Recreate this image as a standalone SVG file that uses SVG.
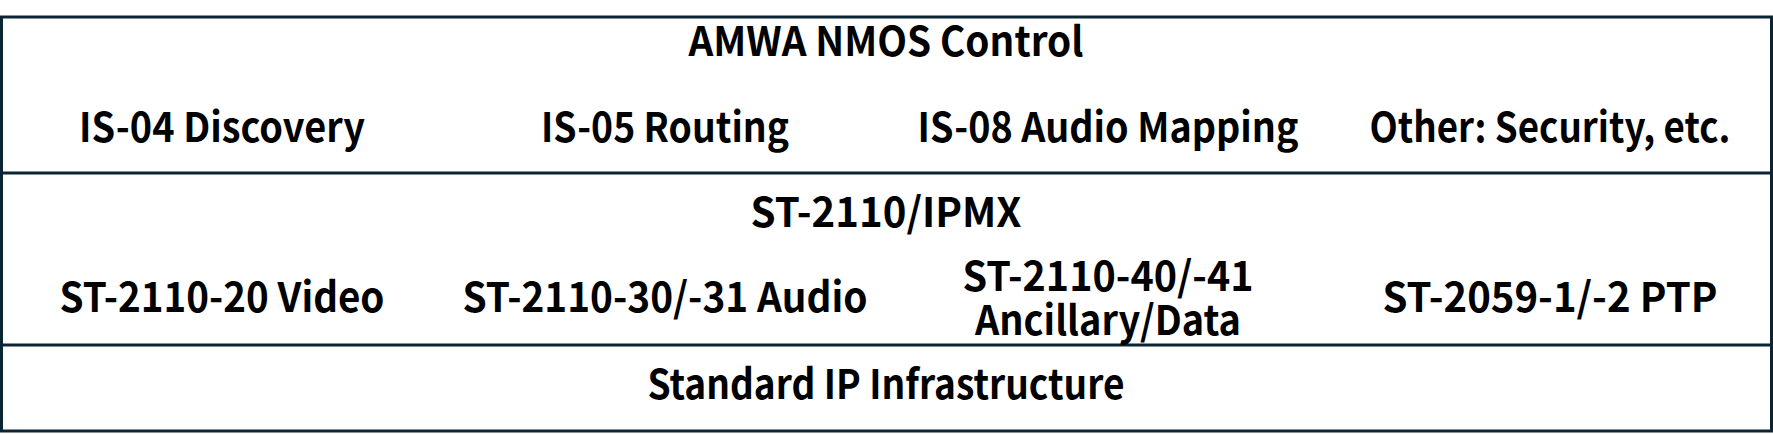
<svg xmlns="http://www.w3.org/2000/svg" width="1773" height="434" viewBox="0 0 1773 434">
<style>
.t{font-family:"Noto Sans CJK JP","Liberation Sans",sans-serif;font-weight:700;font-size:41px;fill:#000;text-anchor:middle}
.ln{stroke:#0b2535;stroke-width:3;fill:none}
</style>
<rect x="0" y="0" width="1773" height="434" fill="#fff"/>
<g id="frame">
<rect class="ln" x="1.5" y="17" width="1770" height="414"/>
</g>
<g id="connectors">
<line class="ln" x1="1.5" y1="173" x2="1771.5" y2="173"/>
<line class="ln" x1="1.5" y1="345" x2="1771.5" y2="345"/>
</g>
<g id="nmos">
<text class="t" x="886" y="56" textLength="395" lengthAdjust="spacingAndGlyphs">AMWA NMOS Control</text>
</g>
<g id="is04"><text class="t" x="222" y="142" textLength="286" lengthAdjust="spacingAndGlyphs">IS-04 Discovery</text></g>
<g id="is05"><text class="t" x="665" y="142" textLength="248" lengthAdjust="spacingAndGlyphs">IS-05 Routing</text></g>
<g id="is08"><text class="t" x="1108" y="142" textLength="381" lengthAdjust="spacingAndGlyphs">IS-08 Audio Mapping</text></g>
<g id="other"><text class="t" x="1550" y="142" textLength="361" lengthAdjust="spacingAndGlyphs">Other: Security, etc.</text></g>
<g id="st2110">
<text class="t" x="886" y="227" textLength="271" lengthAdjust="spacingAndGlyphs">ST-2110/IPMX</text>
</g>
<g id="video"><text class="t" x="222" y="312" textLength="325" lengthAdjust="spacingAndGlyphs">ST-2110-20 Video</text></g>
<g id="audio"><text class="t" x="665" y="312" textLength="405" lengthAdjust="spacingAndGlyphs">ST-2110-30/-31 Audio</text></g>
<g id="anc"><text class="t"><tspan x="1108" y="291" textLength="291" lengthAdjust="spacingAndGlyphs">ST-2110-40/-41</tspan><tspan x="1108" y="335" textLength="266" lengthAdjust="spacingAndGlyphs">Ancillary/Data</tspan></text></g>
<g id="ptp"><text class="t" x="1550" y="312" textLength="335" lengthAdjust="spacingAndGlyphs">ST-2059-1/-2 PTP</text></g>
<g id="ip">
<text class="t" x="886" y="399" textLength="477" lengthAdjust="spacingAndGlyphs">Standard IP Infrastructure</text>
</g>
</svg>
